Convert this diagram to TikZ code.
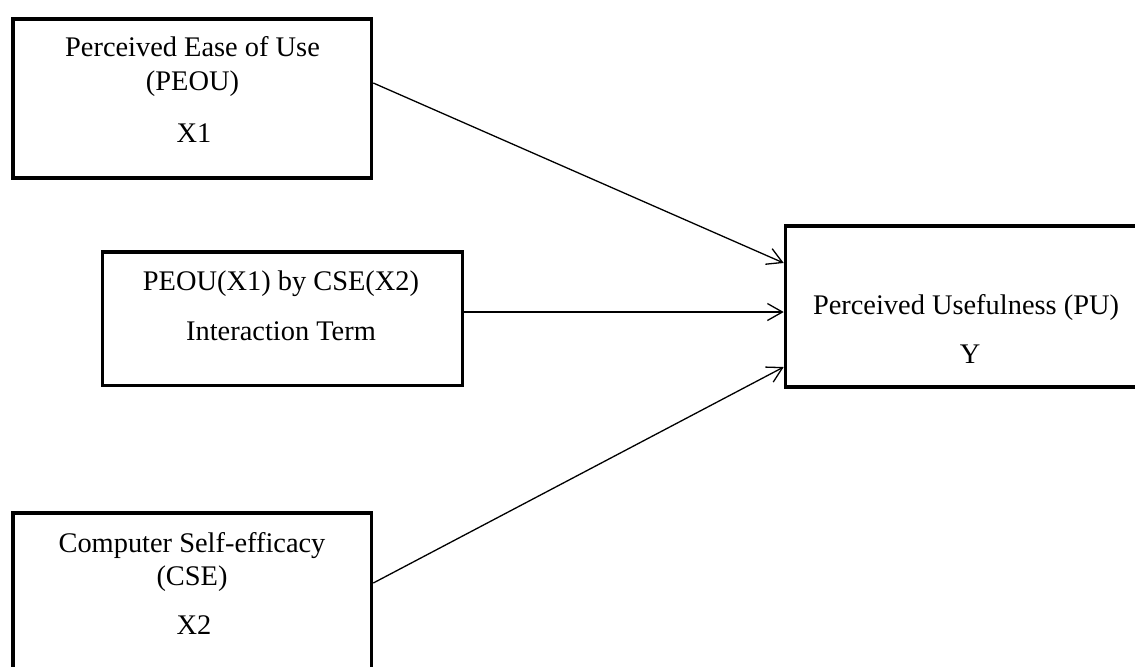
\documentclass[tikz,border=0pt]{standalone}
\usepackage{fontspec}
\setmainfont{Liberation Serif}
\usetikzlibrary{arrows.meta}
\begin{document}
\begin{tikzpicture}[x=0.5pt,y=-0.5pt,
  box/.style={draw, line width=1.8pt, rectangle, inner sep=0pt, fill=white},
  lbl/.style={anchor=base, inner sep=0pt, font=\fontsize{14.2pt}{17pt}\selectfont},
  arr/.style={line width=0.65pt, -{Straight Barb[length=7.5pt,width=8.5pt]}}]
\useasboundingbox (0,0) rectangle (1135,666);
\clip (0,0) rectangle (1135,666);
% boxes
\node[box, minimum width=179.25pt, minimum height=79.5pt] (b1) at (192.25,98.5) {};
\node[box, minimum width=180pt, minimum height=66.75pt] (b2) at (282.5,318.75) {};
\node[box, minimum width=179.25pt, minimum height=93.5pt] (b3) at (192.25,606.5) {};
\node[box, minimum width=182.25pt, minimum height=80.5pt] (b4) at (967.75,306.5) {};
% texts
\node[lbl] (t1a) at (192.5,56.5) {Perceived Ease of Use};
\node[lbl] (t1b) at (192.5,90) {(PEOU)};
\node[lbl] (t1c) at (194,142) {X1};
\node[lbl] (t2a) at (281,290) {PEOU(X1) by CSE(X2)};
\node[lbl] (t2b) at (281,340) {Interaction Term};
\node[lbl] (t3a) at (192,552) {Computer Self-efficacy};
\node[lbl] (t3b) at (192,585) {(CSE)};
\node[lbl] (t3c) at (194,634) {X2};
\node[lbl] (t4a) at (966,314) {Perceived Usefulness (PU)};
\node[lbl] (t4b) at (970,363) {Y};
% connectors
\draw[arr] ([yshift=7.75pt]b1.east) -- ([yshift=21.75pt]b4.west);
\draw[arr] ([yshift=3.375pt]b2.east) -- ([yshift=-2.75pt]b4.west);
\draw[arr] ([yshift=11.75pt]b3.east) -- ([yshift=-30.25pt]b4.west);
\end{tikzpicture}
\end{document}
